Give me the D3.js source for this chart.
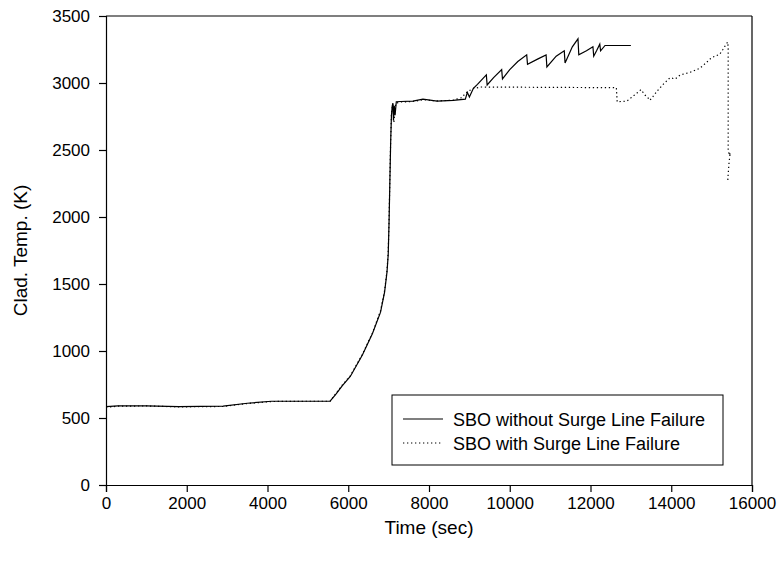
<!DOCTYPE html>
<html>
<head>
<meta charset="utf-8">
<script src="https://cdn.jsdelivr.net/npm/d3@7"></script>
<style>
  html, body { margin: 0; padding: 0; background: #fff; }
  svg { display: block; font-family: Arial, "Liberation Sans", sans-serif; }
</style>
</head>
<body>
<svg id="chart" width="782" height="567"></svg>
<script>
// ---- data ----
const xTicks = [0, 2000, 4000, 6000, 8000, 10000, 12000, 14000, 16000];
const yTicks = [0, 500, 1000, 1500, 2000, 2500, 3000, 3500];
const seriesNames = ["SBO without Surge Line Failure", "SBO with Surge Line Failure"];

// [time (sec), cladding temperature (K)]
const sboNoFailure = [
  [0, 585], [300, 590], [1000, 590], [1800, 585], [2900, 588], [3500, 610], [4100, 625],
  [5000, 625], [5550, 625], [5700, 680], [5850, 740], [6050, 810], [6350, 970],
  [6600, 1130], [6800, 1290], [6900, 1440], [6960, 1590], [6990, 1720], [7010, 1950],
  [7030, 2250], [7050, 2550], [7070, 2760], [7090, 2830], [7105, 2850], [7120, 2720],
  [7140, 2830], [7160, 2760], [7190, 2860], [7300, 2862], [7600, 2865], [7850, 2880],
  [8200, 2865], [8600, 2870], [8900, 2880], [8950, 2930], [9000, 2895], [9100, 2960],
  [9200, 2990], [9420, 3060], [9440, 2985], [9600, 3040], [9800, 3100], [9820, 3030],
  [10000, 3100], [10200, 3160], [10420, 3210], [10440, 3140], [10700, 3180],
  [10900, 3210], [10920, 3120], [11150, 3200], [11350, 3240], [11370, 3150],
  [11550, 3270], [11690, 3330], [11710, 3210], [11900, 3240], [12060, 3270],
  [12080, 3200], [12150, 3240], [12230, 3290], [12250, 3240], [12360, 3280],
  [13000, 3280]
];

const sboWithFailure = [
  [0, 580], [300, 588], [1000, 590], [1800, 583], [2900, 586], [3500, 608], [4100, 623],
  [5000, 625], [5550, 625], [5700, 685], [5850, 745], [6050, 815], [6350, 975],
  [6600, 1135], [6800, 1300], [6900, 1450], [6960, 1600], [6990, 1740], [7010, 1970],
  [7030, 2270], [7050, 2570], [7070, 2770], [7090, 2820], [7110, 2840], [7130, 2700],
  [7150, 2780], [7180, 2850], [7300, 2858], [7600, 2862], [7850, 2875], [8200, 2866],
  [8600, 2872], [8800, 2890], [8950, 2935], [9100, 2960], [9300, 2970], [12640, 2965],
  [12660, 2860], [12900, 2865], [13130, 2920], [13250, 2950], [13350, 2910],
  [13420, 2890], [13470, 2870], [13550, 2900], [13650, 2940], [13800, 2990],
  [13970, 3040], [14100, 3030], [14220, 3060], [14470, 3080], [14710, 3110],
  [14860, 3150], [15000, 3190], [15090, 3200], [15200, 3215], [15280, 3250],
  [15360, 3290], [15400, 3305], [15410, 3250], [15410, 2500], [15440, 2460],
  [15460, 2480], [15430, 2400], [15410, 2320], [15400, 2270]
];

// ---- layout ----
const svg = d3.select("#chart");
const mLeft = 106, mRight = 752, mTop = 16, mBottom = 485;

const x = d3.scaleLinear().domain([0, 16000]).range([mLeft, mRight]);
const y = d3.scaleLinear().domain([0, 3500]).range([mBottom, mTop]);

// frame (top & right)
svg.append("line").attr("x1", mLeft).attr("x2", mRight).attr("y1", mTop).attr("y2", mTop)
  .attr("stroke", "#000").attr("stroke-width", 1.2);
svg.append("line").attr("x1", mRight).attr("x2", mRight).attr("y1", mTop).attr("y2", mBottom)
  .attr("stroke", "#000").attr("stroke-width", 1.2);

// axes
const xAxis = svg.append("g").attr("transform", `translate(0,${mBottom})`)
  .call(d3.axisBottom(x).tickValues(xTicks).tickFormat(d3.format("d")).tickSize(7).tickPadding(5));
const yAxis = svg.append("g").attr("transform", `translate(${mLeft},0)`)
  .call(d3.axisLeft(y).tickValues(yTicks).tickFormat(d3.format("d")).tickSize(7).tickPadding(9));
[xAxis, yAxis].forEach(g => {
  g.select(".domain").attr("stroke", "#000").attr("stroke-width", 1.2);
  g.selectAll(".tick line").attr("stroke", "#000").attr("stroke-width", 1.2);
  g.selectAll(".tick text").attr("fill", "#000").style("font-size", "17px")
    .style("font-family", 'Arial, "Liberation Sans", sans-serif');
});

// titles
svg.append("text").attr("x", (mLeft + mRight) / 2).attr("y", 534)
  .attr("text-anchor", "middle").style("font-size", "19px").text("Time (sec)");
svg.append("text").attr("transform", `translate(27,${(mTop + mBottom) / 2}) rotate(-90)`)
  .attr("text-anchor", "middle").style("font-size", "19px").text("Clad. Temp. (K)");

// lines
const line = d3.line().x(d => x(d[0])).y(d => y(d[1]));
svg.append("path").datum(sboWithFailure).attr("d", line)
  .attr("fill", "none").attr("stroke", "#000").attr("stroke-width", 1.2)
  .attr("stroke-dasharray", "1.3,2.7");
svg.append("path").datum(sboNoFailure).attr("d", line)
  .attr("fill", "none").attr("stroke", "#000").attr("stroke-width", 1.2);

// legend
const lg = svg.append("g");
lg.append("rect").attr("x", 392).attr("y", 395).attr("width", 331).attr("height", 70)
  .attr("fill", "#fff").attr("stroke", "#000").attr("stroke-width", 1);
const styles = [null, "1.3,2.7"];
seriesNames.forEach((name, i) => {
  const yy = 419 + i * 24;
  lg.append("line").attr("x1", 403).attr("x2", 443).attr("y1", yy).attr("y2", yy)
    .attr("stroke", "#000").attr("stroke-width", 1.2)
    .attr("stroke-dasharray", styles[i]);
  lg.append("text").attr("x", 453).attr("y", yy + 6.5).style("font-size", "18px").text(name);
});
</script>
</body>
</html>
